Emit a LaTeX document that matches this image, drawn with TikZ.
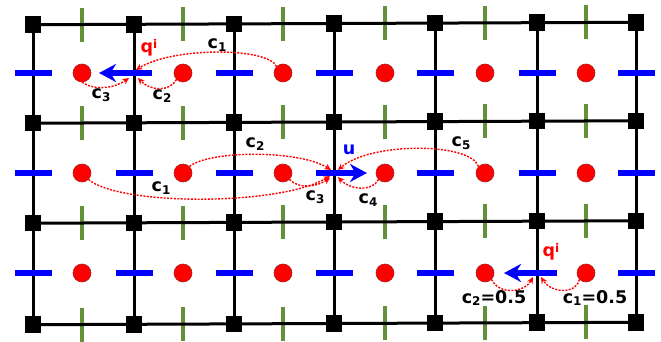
\documentclass[tikz,border=0pt]{standalone}
\usepackage{fontspec}
\setmainfont{DejaVu Sans}
\usetikzlibrary{arrows.meta}
\definecolor{gridgreen}{RGB}{98,145,58}
\definecolor{dotedge}{RGB}{170,30,30}
\newcommand\csub[2]{#1\raisebox{-2.5pt}{\fontsize{12}{12}\selectfont #2}}
\newcommand\qsup{q\raisebox{4pt}{\fontsize{12}{12}\selectfont i}}
\begin{document}
\begin{tikzpicture}[x=1pt,y=-1pt,
  gridline/.style={line width=3pt, black},
  vsq/.style={rectangle, fill=black, minimum size=16.5pt, inner sep=0pt},
  dot/.style={circle, fill=red, draw=dotedge, line width=0.6pt, minimum size=18pt, inner sep=0pt},
  bdash/.style={rectangle, fill=blue, minimum width=37pt, minimum height=5.5pt, inner sep=0pt},
  gdash/.style={rectangle, fill=gridgreen, minimum width=4.8pt, minimum height=34pt, inner sep=0pt},
  bluearrow/.style={blue, line width=5.5pt, -{Stealth[length=17pt,width=18pt]}},
  redarrow/.style={red, line width=1.4pt, dash pattern=on 2pt off 1.4pt, -{Stealth[length=6.5pt,width=6pt]}},
  lab/.style={font=\bfseries\fontsize{17.5}{17.5}\selectfont, inner sep=0pt},
]
\useasboundingbox (0,0) rectangle (661,342);
% grid points
\foreach \x [count=\c] in {33,134,234,334,435,537,636} {
  \foreach \y [count=\r] in {23.5,122,222,323.5} {
    \coordinate (g-\r-\c) at (\x,{\y+0.004*(334-\x)});
  }
}
% green dashes
\foreach \x [count=\c] in {82,183,283,385,485,586} {
  \foreach \y [count=\r] in {23.5,122,222,323.5} {
    \node[gdash] (gd-\r-\c) at (\x,{\y+0.004*(334-\x)}) {};
  }
}
% grid lines
\foreach \r in {1,...,4} { \draw[gridline] (g-\r-1) -- (g-\r-7); }
\foreach \c in {1,...,7} { \draw[gridline] (g-1-\c) -- (g-4-\c); }
% vertices
\foreach \r in {1,...,4} { \foreach \c in {1,...,7} { \node[vsq] (s-\r-\c) at (g-\r-\c) {}; } }
% blue dashes
\foreach \c/\r in {1/1,3/1,4/1,5/1,6/1,7/1,
                   1/2,2/2,3/2,5/2,6/2,7/2,
                   1/3,2/3,3/3,4/3,5/3,7/3} {
  \pgfmathsetmacro{\bx}{{33,134,234,334,435,537,636}[\c-1]}
  \pgfmathsetmacro{\by}{{73,173,273}[\r-1]}
  \node[bdash] (bd-\r-\c) at (\bx,\by) {};
}
% red dots
\foreach \x [count=\c] in {82,183,283,385,485,586} {
  \foreach \y [count=\r] in {73,173,273} {
    \node[dot] (d-\r-\c) at (\x,\y) {};
  }
}
% blue arrows
\coordinate (a1s) at (152,73);  \coordinate (a1e) at (99,73);
\coordinate (a2s) at (316,173); \coordinate (a2e) at (367,173);
\coordinate (a3s) at (557,273); \coordinate (a3e) at (504,273);
\draw[bluearrow] (a1s) -- (a1e);
\draw[bluearrow] (a2s) -- (a2e);
\draw[bluearrow] (a3s) -- (a3e);
% red dashed curves, row 1
\coordinate (t1a) at (136,70);
\coordinate (t1b) at (138,78);
\coordinate (t1c) at (129,78);
\draw[redarrow] (d-1-3.north west) .. controls (268,47) and (172,47) .. (t1a);
\draw[redarrow] (d-1-2.south west) .. controls (170,92) and (150,91) .. (t1b);
\draw[redarrow] (d-1-1.south) .. controls (95,91) and (115,88) .. (t1c);
% row 2
\coordinate (t2a) at (331,170);
\coordinate (t2b) at (330,176);
\coordinate (t2c) at (330,178);
\coordinate (t2d) at (338,177);
\coordinate (t2e) at (338,170);
\draw[redarrow] (d-2-2.north east) .. controls (210,150) and (300,150) .. (t2a);
\draw[redarrow] (d-2-1.south east) .. controls (120,206) and (280,206) .. (t2b);
\draw[redarrow] (d-2-3.south east) .. controls (300,190) and (318,186) .. (t2c);
\draw[redarrow] (d-2-4.south west) .. controls (372,192) and (350,190) .. (t2d);
\draw[redarrow] (d-2-5.north west) .. controls (470,142) and (370,142) .. (t2e);
% row 3
\coordinate (t3a) at (533,277);
\coordinate (t3b) at (541,277);
\draw[redarrow] (d-3-5.south east) .. controls (500,296) and (525,292) .. (t3a);
\draw[redarrow] (d-3-6.south west) .. controls (575,296) and (550,292) .. (t3b);
% labels
\node[lab, red] (q1) at (149,48) {\qsup};
\node[lab] (l1c1) at (217,45) {\csub{c}{1}};
\node[lab] (l1c2) at (162,96) {\csub{c}{2}};
\node[lab] (l1c3) at (101,95) {\csub{c}{3}};
\node[lab, blue] (lu) at (349,150) {u};
\node[lab] (l2c2) at (255,144) {\csub{c}{2}};
\node[lab] (l2c1) at (161,188) {\csub{c}{1}};
\node[lab] (l2c3) at (315,197) {\csub{c}{3}};
\node[lab] (l2c4) at (368,200) {\csub{c}{4}};
\node[lab] (l2c5) at (461,143) {\csub{c}{5}};
\node[lab, red] (q3) at (551,252) {\qsup};
\node[lab] (l3c2) at (494,298) {\csub{c}{2}=0.5};
\node[lab] (l3c1) at (595,298) {\csub{c}{1}=0.5};
\end{tikzpicture}
\end{document}
